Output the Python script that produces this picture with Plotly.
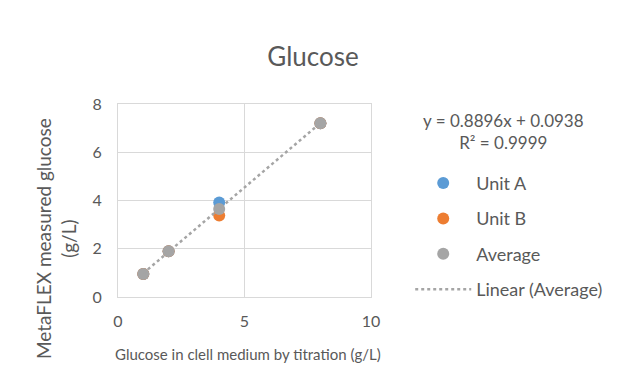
import plotly.graph_objects as go

x_titration = [1, 2, 4, 8]
unit_a = [0.95, 1.9, 3.92, 7.2]
unit_b = [0.95, 1.9, 3.38, 7.2]
average = [0.95, 1.9, 3.65, 7.2]
slope = 0.8896
intercept = 0.0938
r2 = 0.9999
trend_x = [1, 8]
trend_y = [slope * v + intercept for v in trend_x]

FONT = "Lato"
GREY = "#595959"

fig = go.Figure()
fig.add_trace(go.Scatter(x=x_titration, y=unit_a, mode="markers", name="Unit A",
                         marker=dict(color="#5B9BD5", size=12), legendgroup="a"))
fig.add_trace(go.Scatter(x=x_titration, y=unit_b, mode="markers", name="Unit B",
                         marker=dict(color="#ED7D31", size=12), legendgroup="b"))
fig.add_trace(go.Scatter(x=x_titration, y=average, mode="markers", name="Average",
                         marker=dict(color="#A5A5A5", size=12), legendgroup="c"))
fig.add_trace(go.Scatter(x=trend_x, y=trend_y, mode="lines", name="Linear (Average)",
                         line=dict(color="#A5A5A5", width=2.5, dash="dot"), legendgroup="d"))

# trendline equation
fig.add_annotation(xref="paper", yref="paper", x=1.522, y=0.858, xanchor="center", yanchor="middle",
                   text=f"y = {slope}x + {intercept}<br>R² = {r2}", showarrow=False,
                   font=dict(family=FONT, size=17, color=GREY), align="center")
# axis titles
fig.add_annotation(xref="paper", yref="paper", x=0.515, y=-0.295, xanchor="center", yanchor="middle",
                   text="Glucose in clell medium by titration (g/L)", showarrow=False,
                   font=dict(family=FONT, size=15, color=GREY))
fig.add_annotation(xref="paper", yref="paper", x=-0.245, y=0.30, xanchor="center", yanchor="middle",
                   text="MetaFLEX measured glucose<br>(g/L)", showarrow=False, textangle=-90,
                   font=dict(family=FONT, size=19, color=GREY))

fig.update_layout(
    width=635, height=383,
    margin=dict(l=118, r=264, t=104, b=86),
    paper_bgcolor="white", plot_bgcolor="white",
    font=dict(family=FONT, size=16, color=GREY),
    title=dict(text="Glucose", x=0.493, xref="container", xanchor="center", y=0.851, yref="container",
               yanchor="middle", font=dict(family=FONT, size=26, color=GREY)),
    showlegend=True,
    legend=dict(x=1.155, y=0.685, xanchor="left", yanchor="top", tracegroupgap=9, itemwidth=56,
                font=dict(family=FONT, size=18, color=GREY), bgcolor="rgba(0,0,0,0)"),
)
fig.update_xaxes(range=[0, 10], tickvals=[0, 5, 10], showgrid=True, gridcolor="#D9D9D9",
                 showline=True, linecolor="#D9D9D9", mirror=True, zeroline=False,
                 ticks="", ticklabelstandoff=10, tickfont=dict(size=16, color=GREY))
fig.update_yaxes(range=[0, 8], tickvals=[0, 2, 4, 6, 8], showgrid=True, gridcolor="#D9D9D9",
                 showline=True, linecolor="#D9D9D9", mirror=True, zeroline=False,
                 ticks="", ticklabelstandoff=12, tickfont=dict(size=16, color=GREY))

fig.write_html("out.html")
